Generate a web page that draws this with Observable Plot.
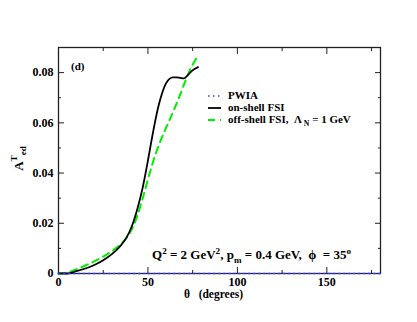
<!DOCTYPE html>
<html><head><meta charset="utf-8">
<script src="https://cdn.jsdelivr.net/npm/d3@7"></script>
<script src="https://cdn.jsdelivr.net/npm/@observablehq/plot@0.6"></script>
<style>
body{margin:0;background:#fff;}
#wrap{position:relative;width:417px;height:322px;font-family:"Liberation Serif","Times New Roman",serif;font-weight:bold;color:#000;}
#wrap svg text{font-family:"Liberation Serif","Times New Roman",serif;font-weight:bold;}
.ov{position:absolute;white-space:nowrap;line-height:1;}
.lg{line-height:0.85;}
sup,sub{font-size:70%;line-height:0;}
</style></head>
<body>
<div id="wrap"></div>
<script>
// Data
const pwiaTheta = [0, 180];
const pwiaValue = [0, 0];
const onTheta = [0, 5, 10, 15, 20, 25, 30, 35, 38, 41, 44, 47, 50, 52, 54, 56, 58, 60, 62, 64, 66, 68, 70, 72, 74, 76, 78];
const onValue = [0, 0, 0.0009, 0.0020, 0.0034, 0.0053, 0.0078, 0.0113, 0.0143, 0.0188, 0.0255, 0.0340, 0.0450, 0.0530, 0.0605, 0.0670, 0.0720, 0.0756, 0.0775, 0.0781, 0.0781, 0.0779, 0.0777, 0.0788, 0.0803, 0.0814, 0.0822];
const offTheta = [0, 5, 10, 15, 20, 25, 30, 35, 40, 44, 47, 50, 53, 56, 59, 62, 65, 68, 71, 74, 78];
const offValue = [0, 0.0004, 0.0016, 0.0032, 0.0048, 0.0067, 0.0090, 0.0118, 0.0163, 0.0228, 0.0298, 0.0375, 0.0448, 0.0510, 0.0562, 0.0610, 0.0660, 0.0712, 0.0768, 0.0818, 0.0868];
const xMajor = [0, 50, 100, 150];
const xMinor = [25, 75, 125, 175];
const yMajor = [0, 0.02, 0.04, 0.06, 0.08];
const yMinor = [0.01, 0.03, 0.05, 0.07, 0.09];
const legendLabels = ["PWIA", "on-shell FSI", "off-shell FSI,&nbsp; Λ"];

const pwia = pwiaTheta.map((t, i) => ({t, v: pwiaValue[i]}));
const onShell = onTheta.map((t, i) => ({t, v: onValue[i]}));
const offShell = offTheta.map((t, i) => ({t, v: offValue[i]}));

const frameColor = "#222";
const tickFont = {fontSize: 12, fontWeight: "bold", fontFamily: "Liberation Serif"};

const chart = Plot.plot({
  width: 417, height: 322,
  marginLeft: 58, marginRight: 37, marginTop: 47, marginBottom: 49,
  style: {fontFamily: "Liberation Serif", background: "#fff", color: "#000"},
  x: {domain: [0, 180]},
  y: {domain: [0, 0.09]},
  marks: [
    Plot.frame({stroke: frameColor, strokeWidth: 1.3}),
    // inward ticks (bottom/top/left/right)
    Plot.axisX({anchor: "bottom", ticks: xMajor, tickSize: -6, tickFormat: () => "", label: null, stroke: frameColor}),
    Plot.axisX({anchor: "bottom", ticks: xMinor, tickSize: -3, tickFormat: () => "", label: null, stroke: frameColor}),
    Plot.axisX({anchor: "top", ticks: xMajor, tickSize: -6, tickFormat: () => "", label: null, stroke: frameColor}),
    Plot.axisX({anchor: "top", ticks: xMinor, tickSize: -3, tickFormat: () => "", label: null, stroke: frameColor}),
    Plot.axisY({anchor: "left", ticks: yMajor, tickSize: -6, tickFormat: () => "", label: null, stroke: frameColor}),
    Plot.axisY({anchor: "left", ticks: yMinor, tickSize: -3, tickFormat: () => "", label: null, stroke: frameColor}),
    Plot.axisY({anchor: "right", ticks: yMajor, tickSize: -6, tickFormat: () => "", label: null, stroke: frameColor}),
    Plot.axisY({anchor: "right", ticks: yMinor, tickSize: -3, tickFormat: () => "", label: null, stroke: frameColor}),
    // labels
    Plot.axisX({anchor: "bottom", ticks: xMajor, tickSize: 0, tickPadding: 4, label: null, tickFormat: d => String(d), ...tickFont}),
    Plot.axisY({anchor: "left", ticks: yMajor, tickSize: 0, tickPadding: 5, label: null, tickFormat: d => d === 0 ? "0" : d.toFixed(2), ...tickFont}),
    // curves
    Plot.line(offShell, {x: "t", y: "v", stroke: "#00ee00", strokeWidth: 2, strokeDasharray: "7,5", curve: "monotone-x"}),
    Plot.line(onShell, {x: "t", y: "v", stroke: "#000", strokeWidth: 1.8, curve: "monotone-x"}),
    Plot.line(pwia, {x: "t", y: "v", stroke: "#3535ff", strokeWidth: 1.5, strokeDasharray: "1.5,3.5"})
  ]
});

const wrap = document.getElementById("wrap");
wrap.appendChild(chart);

// legend line samples (styling overlay)
const leg = d3.select(wrap).append("svg")
  .attr("width", 417).attr("height", 322)
  .style("position", "absolute").style("left", "0").style("top", "0");
const legStyles = [
  {stroke: "#3535ff", dash: "1.5,3.5", w: 1.5},
  {stroke: "#000", dash: null, w: 1.8},
  {stroke: "#00ee00", dash: "7,5", w: 2}
];
const legRowY = [96, 108, 120];
legendLabels.forEach((lab, i) => {
  const s = legStyles[i];
  leg.append("line").attr("x1", 208).attr("x2", 221).attr("y1", legRowY[i]).attr("y2", legRowY[i])
    .attr("stroke", s.stroke).attr("stroke-width", s.w).attr("stroke-dasharray", s.dash);
});

function addOv(html, left, top, extra, cls) {
  const d = document.createElement("div");
  d.className = "ov" + (cls ? " " + cls : "");
  d.innerHTML = html;
  d.style.left = left + "px";
  d.style.top = top + "px";
  Object.assign(d.style, extra || {});
  wrap.appendChild(d);
  return d;
}
addOv(legendLabels[0], 228, 91, {fontSize: "11px"}, "lg");
addOv(legendLabels[1], 228, 103.2, {fontSize: "11px"}, "lg");
addOv(legendLabels[2] + "<sub>&nbsp;N</sub> = 1 GeV", 228, 115.4, {fontSize: "11px"}, "lg");
addOv("(d)", 71, 61, {fontSize: "11px"});
addOv("Q<sup>2</sup> = 2 GeV<sup>2</sup>, p<sub>m</sub> = 0.4 GeV,&nbsp; ϕ&nbsp; = 35<sup>o</sup>", 152, 248, {fontSize: "13px"});
addOv("θ&nbsp;&nbsp; (degrees)", 184, 289, {fontSize: "11.5px"});
addOv("A<sup>T</sup><sub>ed</sub>", 6, 152, {fontSize: "13px", transform: "rotate(-90deg)", transformOrigin: "center"});
</script>
</body></html>
